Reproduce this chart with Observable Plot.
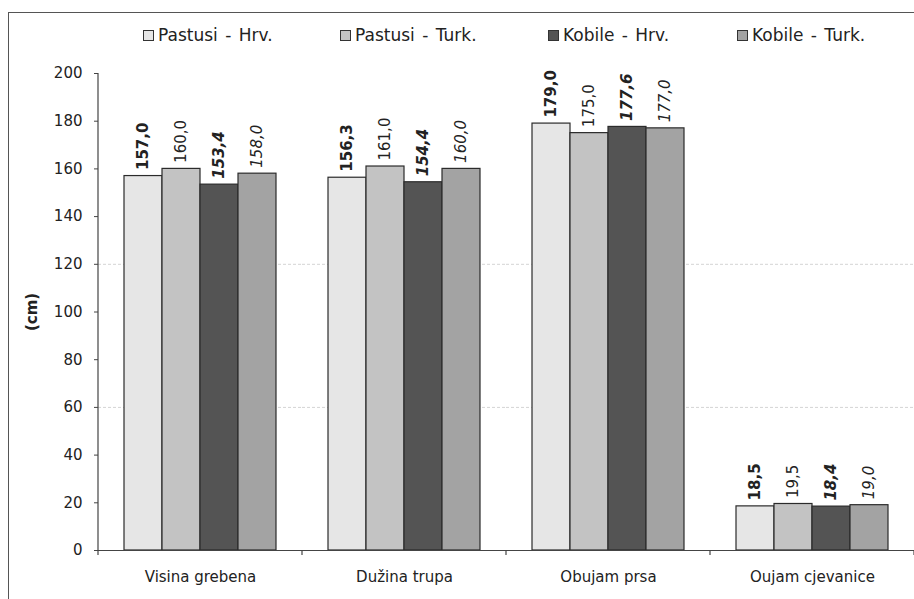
<!DOCTYPE html>
<html>
<head>
<meta charset="utf-8">
<script src="https://cdn.jsdelivr.net/npm/d3@7"></script>
<script src="https://cdn.jsdelivr.net/npm/@observablehq/plot@0.6"></script>
<style>
  body { margin: 0; background: #fff; }
  #wrap { position: relative; width: 914px; height: 599px; overflow: hidden; background: #fff; font-family: "DejaVu Sans", sans-serif; color: #222; }
  #frame { position: absolute; left: 8px; top: 12px; right: -4px; bottom: -4px; border-left: 1.5px solid #555; border-top: 1.5px solid #555; pointer-events: none; z-index: 2; }
  #legend { position: relative; height: 55px; }
  .item { position: absolute; top: 25px; font-size: 17px; line-height: 20px; white-space: nowrap; word-spacing: 2px; }
  .sw { display: inline-block; width: 9px; height: 9px; border: 1px solid #333; margin-right: 4px; vertical-align: 0px; }
  #chart svg { background: transparent; }
</style>
</head>
<body>
<div id="wrap">
  <div id="legend"></div>
  <div id="chart"></div>
  <div id="frame"></div>
</div>
<script>
const categories = ["Visina grebena", "Dužina trupa", "Obujam prsa", "Oujam cjevanice"];
const seriesNames = ["Pastusi - Hrv.", "Pastusi - Turk.", "Kobile - Hrv.", "Kobile - Turk."];
const pastusiHrv  = [157.0, 156.3, 179.0, 18.5];
const pastusiTurk = [160.0, 161.0, 175.0, 19.5];
const kobileHrv   = [153.4, 154.4, 177.6, 18.4];
const kobileTurk  = [158.0, 160.0, 177.0, 19.0];
const yTicks = [0, 20, 40, 60, 80, 100, 120, 140, 160, 180, 200];
const gridValues = [60, 120];
const yLabel = "(cm)";

const seriesValues = [pastusiHrv, pastusiTurk, kobileHrv, kobileTurk];
const colors = ["#e6e6e6", "#c3c3c3", "#545454", "#a3a3a3"];
const weights = ["bold", "normal", "bold", "normal"];
const styles = ["normal", "normal", "italic", "italic"];
const legendLeft = [143, 340, 548, 737];

const rows = [];
seriesNames.forEach((s, si) => {
  categories.forEach((c, ci) => {
    rows.push({category: c, series: s, value: seriesValues[si][ci]});
  });
});

// legend
const legend = document.getElementById("legend");
seriesNames.forEach((s, i) => {
  const it = document.createElement("div");
  it.className = "item";
  it.style.left = legendLeft[i] + "px";
  it.innerHTML = `<span class="sw" style="background:${colors[i]}"></span>${s}`;
  legend.appendChild(it);
});

const fmt = v => v.toFixed(1).replace(".", ",");

const labelMarks = seriesNames.map((s, i) =>
  Plot.text(rows.filter(d => d.series === s), {
    fx: "category", x: "series", y: "value",
    text: d => fmt(d.value),
    rotate: -90, textAnchor: "start", lineAnchor: "middle",
    dy: -6, fontSize: 15, fontWeight: weights[i], fontStyle: styles[i], fill: "#222"
  })
);

const plot = Plot.plot({
  width: 914,
  height: 544,
  marginLeft: 98,
  marginRight: 0,
  marginTop: 18,
  marginBottom: 49,
  style: {fontFamily: "DejaVu Sans, sans-serif", background: "transparent", color: "#222"},
  fx: {domain: categories, padding: 0, label: null},
  x: {domain: seriesNames, paddingInner: 0, paddingOuter: 0.684, axis: null},
  y: {domain: [0, 200], label: null},
  color: {domain: seriesNames, range: colors},
  marks: [
    Plot.ruleY(gridValues, {stroke: "#d4d4d4", strokeWidth: 1, strokeDasharray: "3,2"}),
    Plot.barY(rows, {fx: "category", x: "series", y: "value", fill: "series", stroke: "#2b2b2b", strokeWidth: 1.2}),
    Plot.ruleY([0], {stroke: "#444", strokeWidth: 1.2}),
    ...labelMarks,
    Plot.axisY({ticks: yTicks, tickSize: 4, tickPadding: 12, fontSize: 15, label: null, stroke: "#444"}),
    Plot.axisY({ticks: [], label: yLabel, labelAnchor: "center", labelArrow: "none", labelOffset: 72, fontSize: 15, fontWeight: "bold"}),
    Plot.axisFx({anchor: "bottom", tickSize: 0, tickPadding: 21, fontSize: 15, label: null})
  ]
});

document.getElementById("chart").appendChild(plot);

// axis line and category boundary ticks from the plot's own scales
const fxS = plot.scale("fx");
const yS = plot.scale("y");
const g = d3.select(plot).append("g").attr("stroke", "#444").attr("stroke-width", 1.2);
const x0 = fxS.apply(categories[0]);
g.append("line").attr("x1", x0).attr("x2", x0).attr("y1", yS.apply(200)).attr("y2", yS.apply(0));
g.append("line").attr("x1", x0).attr("x2", x0).attr("y1", yS.apply(0)).attr("y2", yS.apply(0) + 5);
categories.forEach(c => {
  const xb = fxS.apply(c) + fxS.bandwidth;
  g.append("line").attr("x1", xb).attr("x2", xb).attr("y1", yS.apply(0)).attr("y2", yS.apply(0) + 5);
});
</script>
</body>
</html>
